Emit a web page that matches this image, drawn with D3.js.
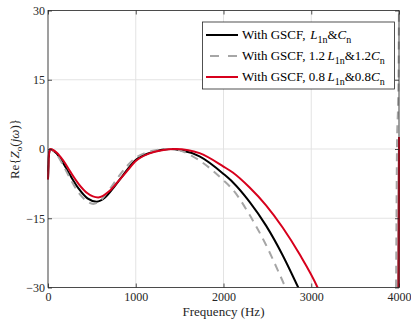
<!DOCTYPE html>
<html><head><meta charset="utf-8">
<script src="https://cdn.jsdelivr.net/npm/d3@7"></script>
<style>body{margin:0;background:#fff}</style>
</head><body><svg id="c" width="411" height="322" style="font-family:'Liberation Serif',serif"></svg>
<script>
const xTicks = [0, 1000, 2000, 3000, 4000];
const yTicks = [-30, -15, 0, 15, 30];
const seriesNames = ["L1n&Cn", "1.2L1n&1.2Cn", "0.8L1n&0.8Cn"];

const freqBlack = [0, 12, 25, 40, 100, 174, 250, 350, 450, 553, 650, 750, 850, 1000, 1150, 1300, 1400, 1500, 1727, 2000, 2106, 2295, 2485, 2674, 2852, 3000, 3990, 4000];
const valBlack  = [-6.5, -1, 0, -0.1, -1.0, -3.1, -5.6, -8.6, -10.7, -11.4, -10.5, -8.3, -5.8, -2.4, -0.9, -0.15, 0, -0.2, -1.6, -5.4, -7.2, -11.4, -16.6, -23.0, -30, -36, -60, 2.4];

const freqGray = [0, 12, 25, 40, 100, 174, 250, 350, 450, 515, 600, 700, 800, 900, 1000, 1150, 1300, 1380, 1500, 1727, 2000, 2106, 2295, 2485, 2636, 2705, 2850, 3955, 3966, 3978, 3990, 3996, 4000];
const valGray  = [-6.6, -1, 0, -0.1, -1.2, -3.6, -6.3, -9.5, -11.4, -11.9, -11.1, -8.8, -6.1, -3.7, -1.9, -0.6, -0.05, 0, -0.3, -2.5, -6.8, -8.8, -14.2, -20.8, -27.0, -30, -38, -45, -30, 2, 10, 18, 35];

const freqRed = [0, 12, 28, 45, 100, 174, 250, 350, 450, 572, 700, 800, 900, 1000, 1150, 1300, 1450, 1600, 1727, 2000, 2106, 2295, 2485, 2674, 2864, 3072, 3200, 3990, 4000];
const valRed  = [-6.6, -1, 0, -0.1, -0.8, -2.5, -4.8, -7.6, -9.6, -10.5, -9.1, -7.0, -4.8, -2.6, -1.0, -0.25, 0, -0.25, -0.9, -3.8, -5.1, -8.3, -12.2, -17.0, -22.7, -30, -36, -60, 2.6];

const svg = d3.select("#c");
const L = 48, R = 399, T = 10.5, B = 287.5;
const x = d3.scaleLinear().domain([0, 4000]).range([L, R]);
const y = d3.scaleLinear().domain([-30, 30]).range([B, T]);
const axisCol = "#262626";
const FONT = "'Liberation Serif', serif";

// grid
const g = svg.append("g");
g.selectAll(".gx").data(xTicks).join("line")
  .attr("x1", d => x(d)).attr("x2", d => x(d)).attr("y1", T).attr("y2", B)
  .attr("stroke", "#e3e3e3").attr("stroke-width", 1);
g.selectAll(".gy").data(yTicks).join("line")
  .attr("y1", d => y(d)).attr("y2", d => y(d)).attr("x1", L).attr("x2", R)
  .attr("stroke", "#e3e3e3").attr("stroke-width", 1);

svg.append("clipPath").attr("id", "clip").append("rect")
  .attr("x", L - 1.5).attr("y", T).attr("width", R - L + 3).attr("height", B - T);

const line = d3.line().x(d => x(d[0])).y(d => y(d[1])).curve(d3.curveMonotoneX);
const series = [
  {f: freqBlack, v: valBlack, color: "#000000", dash: null},
  {f: freqGray, v: valGray, color: "#a6a6a6", dash: "8,6"},
  {f: freqRed, v: valRed, color: "#d7001c", dash: null}
];
const pg = svg.append("g").attr("clip-path", "url(#clip)");
series.forEach(s => {
  pg.append("path").datum(s.f.map((f, i) => [f, s.v[i]]))
    .attr("d", line).attr("fill", "none").attr("stroke", s.color)
    .attr("stroke-width", 2).attr("stroke-dasharray", s.dash);
});

// axes
function styleAxis(sel) {
  sel.attr("font-family", null).style("font-family", FONT);
  sel.select(".domain").remove();
  sel.selectAll("line").attr("stroke", axisCol).attr("stroke-width", 0.8);
  sel.selectAll("text").attr("fill", axisCol).style("font-family", FONT).style("font-size", "12px");
}
svg.append("g").attr("transform", `translate(0,${B})`)
  .call(d3.axisBottom(x).tickValues(xTicks).tickSize(-4).tickPadding(4.5).tickFormat(d3.format("d"))).call(styleAxis);
svg.append("g").attr("transform", `translate(0,${T})`)
  .call(d3.axisTop(x).tickValues(xTicks).tickSize(-4).tickFormat("")).call(styleAxis);
svg.append("g").attr("transform", `translate(${L},0)`)
  .call(d3.axisLeft(y).tickValues(yTicks).tickSize(-4).tickPadding(3).tickFormat(d3.format("d"))).call(styleAxis);
svg.append("g").attr("transform", `translate(${R},0)`)
  .call(d3.axisRight(y).tickValues(yTicks).tickSize(-4).tickFormat("")).call(styleAxis);
svg.append("rect").attr("x", L).attr("y", T).attr("width", R - L).attr("height", B - T)
  .attr("fill", "none").attr("stroke", axisCol).attr("stroke-width", 0.8);

// x label
svg.append("text").attr("x", (L + R) / 2).attr("y", 316).attr("text-anchor", "middle")
  .style("font-family", FONT).attr("fill", axisCol).style("font-size", "13px").text("Frequency (Hz)");

// y label
const yl = svg.append("text").attr("transform", `translate(19,${(T + B) / 2}) rotate(-90)`)
  .style("font-family", FONT).attr("text-anchor", "middle").attr("fill", axisCol).style("font-size", "13px");
yl.append("tspan").text("Re{");
yl.append("tspan").attr("font-style", "italic").text("Z");
yl.append("tspan").attr("dy", 3).style("font-size", "9px").text("o");
yl.append("tspan").attr("dy", -3).text("(");
yl.append("tspan").attr("font-style", "italic").text("jω");
yl.append("tspan").text(")}");

// legend
const lg = svg.append("g");
lg.append("rect").attr("x", 202.5).attr("y", 22).attr("width", 192).attr("height", 67)
  .attr("fill", "#fff").attr("stroke", axisCol).attr("stroke-width", 0.8);
const rows = [35, 56, 77];
const labels = [
  [["With GSCF, ", null], ["L", "i"], ["1n", "s"], ["&", null], ["C", "i"], ["n", "s"]],
  [["With GSCF, 1.2", null], ["L", "i"], ["1n", "s"], ["&1.2", null], ["C", "i"], ["n", "s"]],
  [["With GSCF, 0.8", null], ["L", "i"], ["1n", "s"], ["&0.8", null], ["C", "i"], ["n", "s"]]
];
series.forEach((s, i) => {
  lg.append("line").attr("x1", s.dash ? 210 : 206).attr("x2", 238)
    .attr("y1", rows[i]).attr("y2", rows[i]).attr("stroke", s.color).attr("stroke-width", 2)
    .attr("stroke-dasharray", s.dash ? "9,9" : null);
  const t = lg.append("text").attr("x", 242).attr("y", rows[i] + 3.5).attr("fill", "#000")
    .style("font-family", FONT).style("font-size", "13px");
  let sub = false;
  labels[i].forEach(([txt, kind]) => {
    const sp = t.append("tspan").text(txt);
    if (kind === "i") sp.attr("font-style", "italic");
    if (kind === "s") { sp.style("font-size", "10px").attr("dy", sub ? 0 : 4); sub = true; }
    else if (sub) { sp.attr("dy", -4); sub = false; }
    if (kind === "i" && txt === "L" && i > 0) sp.attr("dx", 2.5);
    if (kind === "i" && txt === "L" && i === 0) sp.attr("dx", 1.5);
  });
});
</script></body></html>
